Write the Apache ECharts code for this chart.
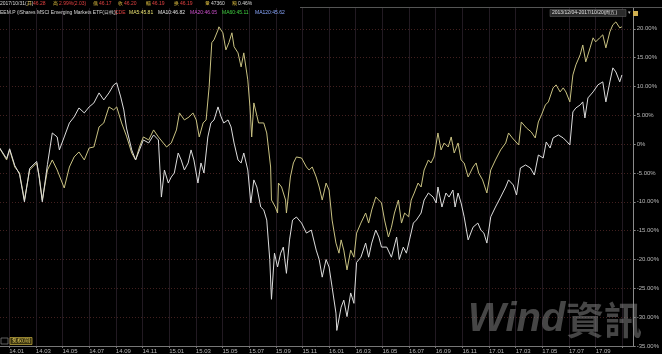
<!DOCTYPE html>
<html>
<head>
<meta charset="utf-8">
<script src="https://cdn.jsdelivr.net/npm/echarts@6/dist/echarts.min.js"></script>
<style>
html,body{margin:0;padding:0;background:#000;}
#c{width:662px;height:354px;}
</style>
</head>
<body>
<div id="c"></div>
<script>
// ---- data (percent change since 2013-12-04) ----
const yellowDates = ["2013-12-04","2013-12-26","2014-01-02","2014-01-14","2014-01-25","2014-02-05","2014-02-16","2014-03-03","2014-03-09","2014-03-16","2014-03-28","2014-04-08","2014-04-19","2014-05-05","2014-05-17","2014-05-28","2014-06-08","2014-06-20","2014-07-01","2014-07-12","2014-07-24","2014-08-04","2014-08-16","2014-08-27","2014-09-03","2014-09-14","2014-09-25","2014-10-07","2014-10-16","2014-10-25","2014-11-03","2014-11-15","2014-11-26","2014-12-07","2014-12-26","2015-01-06","2015-01-18","2015-01-25","2015-02-05","2015-02-15","2015-02-23","2015-03-02","2015-03-09","2015-03-18","2015-03-25","2015-04-01","2015-04-07","2015-04-12","2015-04-21","2015-04-23","2015-05-02","2015-05-09","2015-05-16","2015-05-23","2015-05-28","2015-06-06","2015-06-13","2015-06-19","2015-06-28","2015-07-03","2015-07-07","2015-07-12","2015-07-23","2015-08-04","2015-08-11","2015-08-20","2015-08-22","2015-08-31","2015-09-05","2015-09-07","2015-09-14","2015-09-23","2015-09-25","2015-10-04","2015-10-11","2015-10-18","2015-10-30","2015-11-10","2015-11-16","2015-11-23","2015-12-02","2015-12-09","2015-12-16","2015-12-25","2016-01-01","2016-01-08","2016-01-17","2016-01-24","2016-01-29","2016-02-04","2016-02-11","2016-02-19","2016-02-26","2016-03-03","2016-03-13","2016-03-24","2016-03-31","2016-04-07","2016-04-16","2016-04-23","2016-04-29","2016-05-06","2016-05-15","2016-05-22","2016-05-29","2016-06-07","2016-06-14","2016-06-21","2016-06-30","2016-07-06","2016-07-13","2016-07-22","2016-07-29","2016-08-05","2016-08-15","2016-08-21","2016-08-28","2016-09-06","2016-09-13","2016-09-20","2016-09-29","2016-10-06","2016-10-13","2016-10-22","2016-10-29","2016-11-05","2016-11-14","2016-11-25","2016-12-02","2016-12-08","2016-12-17","2016-12-27","2017-01-05","2017-01-16","2017-01-28","2017-02-08","2017-02-14","2017-02-22","2017-03-08","2017-03-14","2017-03-26","2017-04-06","2017-04-15","2017-04-22","2017-04-29","2017-05-08","2017-05-15","2017-05-26","2017-06-02","2017-06-11","2017-06-18","2017-06-24","2017-07-03","2017-07-10","2017-07-17","2017-07-27","2017-08-02","2017-08-09","2017-08-19","2017-08-26","2017-09-01","2017-09-10","2017-09-17","2017-09-24","2017-10-03","2017-10-10","2017-10-17","2017-10-26","2017-10-31"];
const yellowValues = [0,-2.74,-1.0,-3.96,-5.0,-9.69,-4.48,-3.26,-5.69,-9.69,-4.48,-2.74,-4.48,-7.6,-3.96,-2.22,-1.35,-2.74,-0.66,-0.49,2.99,3.68,6.46,5.94,6.46,3.68,1.4,-1.53,-2.74,-0.49,1.25,0.73,2.47,1.25,-0.49,0.21,2.47,5.42,4.2,4.72,5.42,4.2,1.25,3.68,4.2,9.93,17.6,18.1,19.8,20.35,19.31,16.35,17.6,19.31,16.9,15.83,13.4,15.83,11.15,6.46,1.25,7.15,3.68,3.68,1.94,-3.96,-9.69,-10.9,-11.94,-6.74,-7.43,-9.69,-11.94,-5.69,-3.26,-2.22,-2.4,-3.96,-4.48,-3.96,-5.69,-7.43,-9.69,-6.74,-7.95,-13.16,-17.15,-18.9,-16.6,-18.37,-21.8,-18.37,-19.6,-15.42,-13.68,-11.94,-13.68,-11.4,-9.17,-9.69,-10.2,-13.16,-16.1,-14.4,-11.94,-9.69,-13.68,-11.94,-12.6,-9.69,-8.47,-6.74,-7.43,-4.48,-2.74,-3.26,-2.22,1.94,-1.0,0.21,-0.49,1.25,-1.53,0.21,-2.74,-3.26,-5.69,-3.96,-3.26,-5.0,-6.2,-8.47,-4.48,-2.74,-1.0,0.21,1.94,1.08,-0.14,3.85,2.81,2.12,1.08,3.85,5.07,6.8,7.33,9.76,10.28,9.06,9.76,9.06,7.33,12.0,13.75,15.5,17.2,14.27,16.7,18.44,17.74,18.44,18.96,16.7,19.48,20.7,21.2,20.17,20.35];

const whiteDates = ["2013-12-04","2013-12-26","2014-01-02","2014-01-14","2014-01-25","2014-02-05","2014-02-16","2014-03-03","2014-03-09","2014-03-16","2014-03-28","2014-04-08","2014-04-19","2014-04-24","2014-05-05","2014-05-17","2014-05-28","2014-06-08","2014-06-20","2014-07-01","2014-07-12","2014-07-24","2014-08-04","2014-08-16","2014-08-27","2014-09-03","2014-09-12","2014-09-19","2014-09-25","2014-10-07","2014-10-16","2014-10-25","2014-11-03","2014-11-15","2014-11-26","2014-12-07","2014-12-14","2014-12-21","2014-12-30","2015-01-06","2015-01-13","2015-01-22","2015-01-29","2015-02-05","2015-02-13","2015-02-19","2015-02-25","2015-03-06","2015-03-13","2015-03-20","2015-03-29","2015-04-05","2015-04-12","2015-04-21","2015-04-28","2015-05-04","2015-05-14","2015-05-21","2015-05-28","2015-06-06","2015-06-13","2015-06-19","2015-06-28","2015-07-05","2015-07-12","2015-07-19","2015-07-28","2015-08-04","2015-08-11","2015-08-18","2015-08-22","2015-08-29","2015-09-05","2015-09-12","2015-09-18","2015-09-25","2015-10-02","2015-10-09","2015-10-18","2015-10-30","2015-11-10","2015-11-21","2015-12-02","2015-12-09","2015-12-16","2015-12-25","2016-01-01","2016-01-08","2016-01-17","2016-01-19","2016-01-29","2016-02-04","2016-02-11","2016-02-19","2016-02-26","2016-03-03","2016-03-13","2016-03-24","2016-03-31","2016-04-07","2016-04-16","2016-04-23","2016-04-29","2016-05-11","2016-05-22","2016-06-03","2016-06-09","2016-06-18","2016-06-25","2016-07-02","2016-07-11","2016-07-18","2016-07-29","2016-08-05","2016-08-15","2016-08-26","2016-09-02","2016-09-06","2016-09-15","2016-09-24","2016-10-01","2016-10-10","2016-10-15","2016-10-22","2016-10-29","2016-11-05","2016-11-14","2016-11-25","2016-12-06","2016-12-13","2016-12-20","2016-12-27","2017-01-05","2017-01-16","2017-01-28","2017-02-08","2017-02-14","2017-02-24","2017-03-03","2017-03-12","2017-03-24","2017-04-04","2017-04-13","2017-04-22","2017-05-03","2017-05-10","2017-05-19","2017-05-26","2017-06-07","2017-06-18","2017-06-27","2017-07-03","2017-07-10","2017-07-17","2017-07-27","2017-08-02","2017-08-07","2017-08-14","2017-08-26","2017-09-06","2017-09-17","2017-09-24","2017-10-03","2017-10-10","2017-10-17","2017-10-26","2017-10-31"];
const whiteValues = [0,-2.5,-0.8,-3.7,-5.2,-10.0,-4.2,-3.0,-5.9,-10.0,-3.5,1.94,1.25,-1.0,1.25,3.68,4.72,6.28,5.42,6.46,7.15,8.89,7.67,8.89,10.28,10.63,8.19,5.94,2.8,-1.0,-2.74,-1.0,0.73,0.21,1.6,0.73,-9.17,-4.48,-6.74,-5.69,-5.0,-1.53,-2.74,-4.48,-3.26,-1.0,-2.74,-6.74,-3.26,-5.0,1.25,3.68,4.2,6.46,4.72,3.68,4.2,2.99,0.21,-2.74,-3.26,-1.53,-4.48,-10.2,-6.2,-7.43,-10.9,-11.4,-13.16,-20.0,-26.9,-18.9,-21.3,-18.9,-17.85,-22.4,-16.6,-13.16,-12.63,-13.68,-15.42,-14.9,-18.37,-20.0,-23.06,-20.0,-21.3,-24.8,-29.3,-32.3,-28.26,-27.05,-29.9,-25.8,-27.6,-20.5,-19.6,-17.15,-19.6,-17.15,-14.9,-16.1,-17.85,-17.85,-19.6,-16.1,-20.0,-17.85,-18.9,-16.6,-13.68,-13.16,-11.94,-9.69,-8.47,-9.17,-10.2,-7.43,-10.9,-8.47,-9.17,-7.95,-10.9,-8.47,-10.2,-12.6,-16.6,-14.4,-13.68,-14.9,-15.42,-17.15,-12.6,-10.9,-9.17,-7.43,-6.2,-7.08,-8.82,-4.13,-3.61,-4.13,-5.35,-1.88,-2.4,0.38,-0.66,1.08,1.6,1.08,0.38,-0.14,5.59,6.28,6.8,7.33,4.55,8.02,9.06,10.28,10.8,7.33,10.8,13.23,12.53,10.8,12.0];

const yTicks = {min: -35, max: 25, step: 5};
// month-start ticks, counted in months since 2014-01 (0 = 14.01 ... 44 = 17.09)
const xTickMonths = [0,2,4,6,8,10,12,14,16,18,20,22,24,26,28,30,32,34,36,38,40,42,44,46];
const xRange = {min: -0.69, max: 46.85};

// ---- helpers ----
function monthIndex(s) {
  const [y, m, d] = s.split('-').map(Number);
  const dim = new Date(y, m, 0).getDate();
  return (y - 2014) * 12 + (m - 1) + (d - 1) / dim;
}
function pairs(dates, vals) { return dates.map((d, i) => [monthIndex(d), vals[i]]); }
function monthLabel(v) {
  const k = Math.round(v);
  if (k > 44) return '';
  const y = 2014 + Math.floor(k / 12);
  const m = ((k % 12) + 12) % 12 + 1;
  return String(y).slice(2) + '.' + (m < 10 ? '0' + m : m);
}

const chart = echarts.init(document.getElementById('c'), null, {renderer: 'canvas'});
const F = 'Liberation Sans, Arial, sans-serif';
const txt = (x, y, s, fill, size) => ({type: 'text', left: x, top: y, z: 100,
  style: {text: s, fill: fill, font: (size || 5) + 'px ' + F}});

chart.setOption({
  backgroundColor: '#000',
  animation: false,
  grid: {left: 0, right: 23, top: 0, bottom: 8, containLabel: false},
  xAxis: {
    type: 'value', min: xRange.min, max: xRange.max,
    axisLine: {show: true, onZero: false, lineStyle: {color: '#777', width: 1}},
    axisTick: {show: true, length: 2, customValues: xTickMonths, lineStyle: {color: '#777'}},
    axisLabel: {show: true, color: '#b8b8b8', fontSize: 6, fontFamily: F, align: 'left',
      margin: 2, customValues: xTickMonths, formatter: monthLabel},
    splitLine: {show: true, lineStyle: {color: '#221a22', width: 1}}
  },
  yAxis: {
    type: 'value', position: 'right', min: yTicks.min, max: yTicks.max, interval: yTicks.step,
    axisLine: {show: true, onZero: false, lineStyle: {color: '#8a8a8a', width: 1}},
    axisTick: {show: true, length: 2, lineStyle: {color: '#888'}},
    axisLabel: {show: true, color: '#b8b8b8', fontSize: 6, fontFamily: F, margin: 3,
      showMaxLabel: false,
      formatter: v => v === 0 ? '0%' : v.toFixed(2) + '%'},
    splitLine: {show: true, lineStyle: {color: '#42201f', width: 1, type: [1, 2]}}
  },
  series: [
    {name: 'EEM', type: 'line', data: pairs(yellowDates, yellowValues), showSymbol: false,
     lineStyle: {color: '#c9c282', width: 1}, z: 3},
    {name: 'Index', type: 'line', data: pairs(whiteDates, whiteValues), showSymbol: false,
     lineStyle: {color: '#dcdcdc', width: 1}, z: 4}
  ],
  graphic: [
    {type: 'rect', shape: {x: 0, y: 0, width: 662, height: 8}, style: {fill: '#000'}, z: 90},
    {type: 'line', shape: {x1: 300, y1: 7.5, x2: 662, y2: 7.5}, style: {stroke: '#555', lineWidth: 1}, z: 95},
    txt(0, 1.5, '2017/10/31(二)', '#d8d8d8'),
    txt(27, 1.5, '开', '#e0c040'), txt(33, 1.5, '46.28', '#e04040'),
    txt(53, 1.5, '高', '#e0c040'), txt(59, 1.5, '2.99%(2.03)', '#e04040'),
    txt(93, 1.5, '低', '#e0c040'), txt(99, 1.5, '46.17', '#e04040'),
    txt(118, 1.5, '收', '#e0c040'), txt(124, 1.5, '46.20', '#e04040'),
    txt(146, 1.5, '幅', '#e0c040'), txt(152, 1.5, '46.19', '#e04040'),
    txt(174, 1.5, '换', '#e0c040'), txt(180, 1.5, '46.19', '#e04040'),
    txt(205, 1.5, '量', '#e0c040'), txt(211, 1.5, '47360', '#d8d8d8'),
    txt(232, 1.5, '额', '#e0c040'), txt(238, 1.5, '0.46%', '#d8d8d8'),
    txt(0, 10.5, 'EEM.P (iShares MSCI Emerging Markets ETF(日线))', '#d8d8d8'),
    txt(115, 10.5, 'CDE', '#e04040'),
    txt(129, 10.5, 'MA5:45.81', '#e8e070'),
    txt(158, 10.5, 'MA10:46.82', '#e0e0e0'),
    txt(190, 10.5, 'MA20:46.05', '#d050d0'),
    txt(222, 10.5, 'MA60:45.11', '#40d040'),
    txt(255, 10.5, 'MA120:45.62', '#8aa8ff'),
    {type: 'rect', shape: {x: 550, y: 9.5, width: 76, height: 7}, style: {fill: '#2a2a2a', stroke: '#666', lineWidth: 0.5}, z: 96},
    txt(552, 10.5, '2013/12/04-2017/10/20(周五)', '#e0e0e0'),
    txt(628, 10, '▾', '#bbb'),
    {type: 'rect', shape: {x: 633, y: 11, width: 5, height: 5}, style: {fill: '#d0b050'}, z: 96},
    {type: 'rect', shape: {x: 1, y: 338, width: 7, height: 6}, style: {fill: 'none', stroke: '#888', lineWidth: 0.7}, z: 96},
    {type: 'rect', shape: {x: 10, y: 337.5, width: 22, height: 7}, style: {fill: '#3a3410', stroke: '#c8b040', lineWidth: 0.7}, z: 96},
    txt(12, 338.5, '复权(前)', '#e8d060'),
    {type: 'text', left: 468, top: 300, z: 80,
     style: {text: 'Wind', fill: 'rgba(140,140,140,0.5)', font: 'italic bold 40px ' + F}},
    {type: 'text', left: 566, top: 301, z: 80,
     style: {text: '資訊', fill: 'rgba(140,140,140,0.5)', font: 'bold 38px "Noto Sans CJK TC", sans-serif'}}
  ]
});
</script>
</body>
</html>
